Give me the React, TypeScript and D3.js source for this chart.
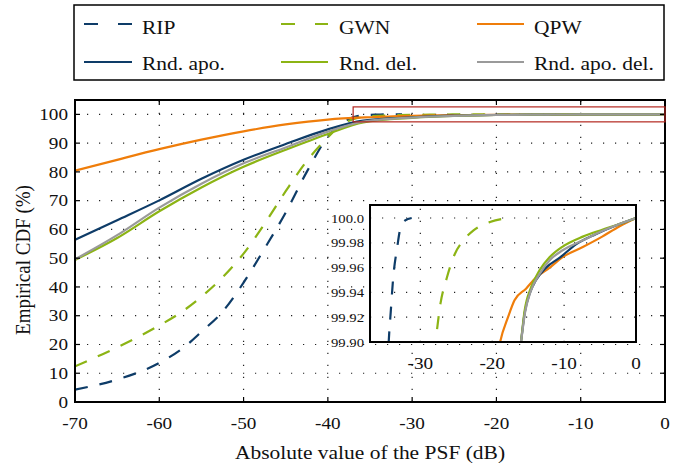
import React from "react";
import * as d3 from "d3";

// ---- data ----
const xTicks = [-70, -60, -50, -40, -30, -20, -10, 0];
const yTicks = [0, 10, 20, 30, 40, 50, 60, 70, 80, 90, 100];
const insetXTicks = [-30, -20, -10, 0];
const insetYTicks = [99.9, 99.92, 99.94, 99.96, 99.98, 100.0];
const insetYLabels = ["99.90", "99.92", "99.94", "99.96", "99.98", "100.0"];

const ripData: [number, number][] = [
  [-70, 4.3], [-65, 7.8], [-60, 13.6], [-57, 19.2], [-55, 24.4], [-52.5, 31.4], [-50, 41.5],
  [-47.5, 53.4], [-45, 65.9], [-42.5, 80.0], [-40, 92.2], [-38, 97.5], [-36.5, 99.4],
  [-35, 99.8], [-34.4, 99.9], [-34.1, 99.9255], [-33.8, 99.95], [-33.2, 99.977],
  [-32.8, 99.991], [-32.1, 99.998], [-31.2, 100.0],
];
const gwnData: [number, number][] = [
  [-70, 12.4], [-65, 19.0], [-60, 26.6], [-57.5, 31.0], [-55, 36.6], [-52.5, 43.3], [-50, 51.6],
  [-47.5, 62.0], [-45, 73.3], [-42.5, 83.8], [-40, 92.0], [-38.5, 96.2], [-37, 98.3],
  [-35, 99.3], [-32, 99.7], [-30, 99.83], [-27.9, 99.9], [-27.2, 99.931], [-26.3, 99.952],
  [-25.2, 99.971], [-24, 99.982], [-22.6, 99.99], [-20.3, 99.9968], [-17.3, 100.0],
];
const qpwData: [number, number][] = [
  [-70, 80.4], [-65, 84.2], [-60, 87.9], [-55, 91.2], [-50, 94.1], [-45, 96.5], [-40, 98.2],
  [-35, 99.0], [-30, 99.45], [-25, 99.72], [-20, 99.86], [-18.9, 99.9], [-17.8, 99.92],
  [-16.9, 99.9336], [-15.3, 99.943], [-13.9, 99.952], [-12, 99.96], [-10.2, 99.9685],
  [-7.4, 99.9766], [-4.7, 99.985], [-2.4, 99.993], [0, 100.0],
];
const apoData: [number, number][] = [
  [-70, 56.4], [-65, 63.2], [-60, 70.1], [-55, 77.6], [-50, 84.2], [-45, 89.7], [-40, 94.8],
  [-35.8, 97.8], [-30, 99.0], [-25, 99.55], [-20, 99.8], [-16, 99.9], [-15.5, 99.923],
  [-14.8, 99.939], [-13.9, 99.95], [-12.5, 99.96], [-10.6, 99.968], [-8.3, 99.979],
  [-5.6, 99.987], [-2.8, 99.994], [0, 100.0],
];
const delData: [number, number][] = [
  [-70, 49.4], [-65, 57.0], [-60, 66.3], [-55, 74.6], [-50, 81.8], [-45, 87.7], [-40, 93.2],
  [-35.8, 97.2], [-30, 98.8], [-25, 99.45], [-20, 99.78], [-16, 99.9], [-15.5, 99.925],
  [-14.6, 99.944], [-13.4, 99.958], [-12, 99.9685], [-10.2, 99.977], [-7.4, 99.985],
  [-4.7, 99.9906], [-2.4, 99.995], [0, 100.0],
];
const apoDelData: [number, number][] = [
  [-70, 49.6], [-65, 58.0], [-60, 67.6], [-55, 75.9], [-50, 83.0], [-45, 88.5], [-40, 94.0],
  [-35.8, 97.5], [-30, 98.9], [-25, 99.5], [-20, 99.8], [-16, 99.9], [-15.4, 99.925],
  [-14.6, 99.9417], [-13.4, 99.955], [-12, 99.966], [-10.2, 99.974], [-7.4, 99.982],
  [-4.7, 99.9895], [-2.4, 99.995], [0, 100.0],
];

// zoomed region marked in the main axes
const zoomX = [-37, 0];
const zoomY = [97.4, 102.6];

const NAVY = "#0e3c68";
const GREEN = "#8cb414";
const ORANGE = "#ef7d0a";
const GRAY = "#9a9a9a";

const series = [
  { name: "RIP", data: ripData, color: NAVY, dashed: true },
  { name: "GWN", data: gwnData, color: GREEN, dashed: true },
  { name: "QPW", data: qpwData, color: ORANGE, dashed: false },
  { name: "Rnd. apo.", data: apoData, color: NAVY, dashed: false },
  { name: "Rnd. del.", data: delData, color: GREEN, dashed: false },
  { name: "Rnd. apo. del.", data: apoDelData, color: GRAY, dashed: false },
];

const FONT = "'Liberation Serif', 'DejaVu Serif', serif";
const SX = 1.13; // the figure's text is a little wider than plain Times

const Txt = ({ x, y, size, anchor = "middle", children }: any) => (
  <text
    transform={`translate(${x},${y}) scale(${SX},1)`}
    style={{ fontFamily: FONT, fontSize: size }}
    textAnchor={anchor}
    fill="#111"
  >
    {children}
  </text>
);

export default function App() {
  const W = 680;
  const H = 469;
  const m = { left: 75, right: 665, top: 100, bottom: 402 };
  const x = d3.scaleLinear().domain([-70, 0]).range([m.left, m.right]);
  const y = d3.scaleLinear().domain([0, 105]).range([m.bottom, m.top]);

  const ins = { left: 370, right: 636, top: 205, bottom: 342 };
  const xi = d3.scaleLinear().domain([-37, 0]).range([ins.left, ins.right]);
  const yi = d3.scaleLinear().domain([99.9, 100.0105]).range([ins.bottom, ins.top]);

  const mainLine = d3
    .line<[number, number]>()
    .x((d) => x(d[0]))
    .y((d) => y(d[1]))
    .curve(d3.curveMonotoneX);
  const insetLine = d3
    .line<[number, number]>()
    .x((d) => xi(d[0]))
    .y((d) => yi(d[1]))
    .curve(d3.curveMonotoneX);

  const dots = "1.2,10.8";
  const tick = 5;

  // legend layout
  const legCols = [
    { line: [84, 132], text: 142 },
    { line: [281, 328], text: 339 },
    { line: [477, 524], text: 534 },
  ];
  const legRows = [{ line: 24, text: 33.5 }, { line: 62, text: 69.5 }];

  return (
    <svg
      width={W}
      height={H}
      style={{ position: "absolute", left: 0, top: 0, background: "#fff" }}
    >
      <defs>
        <clipPath id="mainClip">
          <rect x={m.left} y={m.top} width={m.right - m.left} height={m.bottom - m.top} />
        </clipPath>
        <clipPath id="insetClip">
          <rect x={ins.left} y={ins.top} width={ins.right - ins.left} height={ins.bottom - ins.top} />
        </clipPath>
      </defs>
      <rect width={W} height={H} fill="#fff" />

      {/* main grid */}
      <g stroke="#222" strokeWidth={1.2} strokeDasharray={dots}>
        {xTicks.slice(1, -1).map((t) => (
          <line key={"gx" + t} x1={x(t)} x2={x(t)} y1={m.bottom} y2={m.top} />
        ))}
        {yTicks.slice(1).map((t) => (
          <line key={"gy" + t} x1={m.left} x2={m.right} y1={y(t)} y2={y(t)} />
        ))}
      </g>

      {/* main curves */}
      <g clipPath="url(#mainClip)" fill="none">
        {series.map((s) => (
          <path
            key={"m" + s.name}
            d={mainLine(s.data) || ""}
            stroke={s.color}
            strokeWidth={2.2}
            strokeDasharray={s.dashed ? "13,12" : undefined}
          />
        ))}
      </g>

      {/* main ticks */}
      <g stroke="#000" strokeWidth={1.2}>
        {xTicks.map((t) => (
          <g key={"tx" + t}>
            <line x1={x(t)} x2={x(t)} y1={m.bottom} y2={m.bottom - tick} />
            <line x1={x(t)} x2={x(t)} y1={m.top} y2={m.top + tick} />
          </g>
        ))}
        {yTicks.map((t) => (
          <g key={"ty" + t}>
            <line x1={m.left} x2={m.left + tick} y1={y(t)} y2={y(t)} />
            <line x1={m.right} x2={m.right - tick} y1={y(t)} y2={y(t)} />
          </g>
        ))}
      </g>
      <rect
        x={m.left}
        y={m.top}
        width={m.right - m.left}
        height={m.bottom - m.top}
        fill="none"
        stroke="#000"
        strokeWidth={2}
      />

      {/* zoom marker */}
      <rect
        x={x(zoomX[0])}
        y={y(zoomY[1])}
        width={x(zoomX[1]) - x(zoomX[0])}
        height={y(zoomY[0]) - y(zoomY[1])}
        fill="none"
        stroke="#b3261e"
        strokeWidth={1.2}
      />

      {/* main tick labels */}
      {xTicks.map((t) => (
        <Txt key={"lx" + t} x={x(t)} y={429} size={17}>
          {t}
        </Txt>
      ))}
      {yTicks.map((t) => (
        <Txt key={"ly" + t} x={68} y={y(t) + 5.6} size={17} anchor="end">
          {t}
        </Txt>
      ))}

      {/* axis labels */}
      <Txt x={370} y={459} size={19}>
        Absolute value of the PSF (dB)
      </Txt>
      <text
        transform={`translate(29.5,260) rotate(-90) scale(1,${SX})`}
        style={{ fontFamily: FONT, fontSize: 19 }}
        textAnchor="middle"
        fill="#111"
      >
        Empirical CDF (%)
      </text>

      {/* inset */}
      <rect
        x={ins.left}
        y={ins.top}
        width={ins.right - ins.left}
        height={ins.bottom - ins.top}
        fill="#fff"
      />
      <g stroke="#222" strokeWidth={1.2} strokeDasharray={dots}>
        {insetXTicks.slice(0, -1).map((t) => (
          <line key={"igx" + t} x1={xi(t)} x2={xi(t)} y1={ins.bottom} y2={ins.top} />
        ))}
        {insetYTicks.slice(1).map((t) => (
          <line key={"igy" + t} x1={ins.left} x2={ins.right} y1={yi(t)} y2={yi(t)} />
        ))}
      </g>
      <g clipPath="url(#insetClip)" fill="none">
        {series.map((s) => (
          <path
            key={"i" + s.name}
            d={insetLine(s.data) || ""}
            stroke={s.color}
            strokeWidth={2.2}
            strokeDasharray={s.dashed ? "13,12" : undefined}
          />
        ))}
      </g>
      <rect
        x={ins.left}
        y={ins.top}
        width={ins.right - ins.left}
        height={ins.bottom - ins.top}
        fill="none"
        stroke="#000"
        strokeWidth={2}
      />
      {insetXTicks.map((t) => (
        <Txt key={"ilx" + t} x={xi(t)} y={368.5} size={17}>
          {t}
        </Txt>
      ))}
      {insetYTicks.map((t, i) => (
        <Txt key={"ily" + t} x={364} y={yi(t) + 4.5} size={13} anchor="end">
          {insetYLabels[i]}
        </Txt>
      ))}

      {/* legend */}
      <rect x={74} y={5} width={590} height={75} fill="#fff" stroke="#000" strokeWidth={1.5} />
      {series.map((s, i) => {
        const c = legCols[i % 3];
        const r = legRows[Math.floor(i / 3)];
        return (
          <g key={"lg" + s.name}>
            <line
              x1={c.line[0]}
              x2={c.line[1]}
              y1={r.line}
              y2={r.line}
              stroke={s.color}
              strokeWidth={2.2}
              strokeDasharray={s.dashed ? "14,20" : undefined}
            />
            <Txt x={c.text} y={r.text} size={19} anchor="start">
              {s.name}
            </Txt>
          </g>
        );
      })}
    </svg>
  );
}
